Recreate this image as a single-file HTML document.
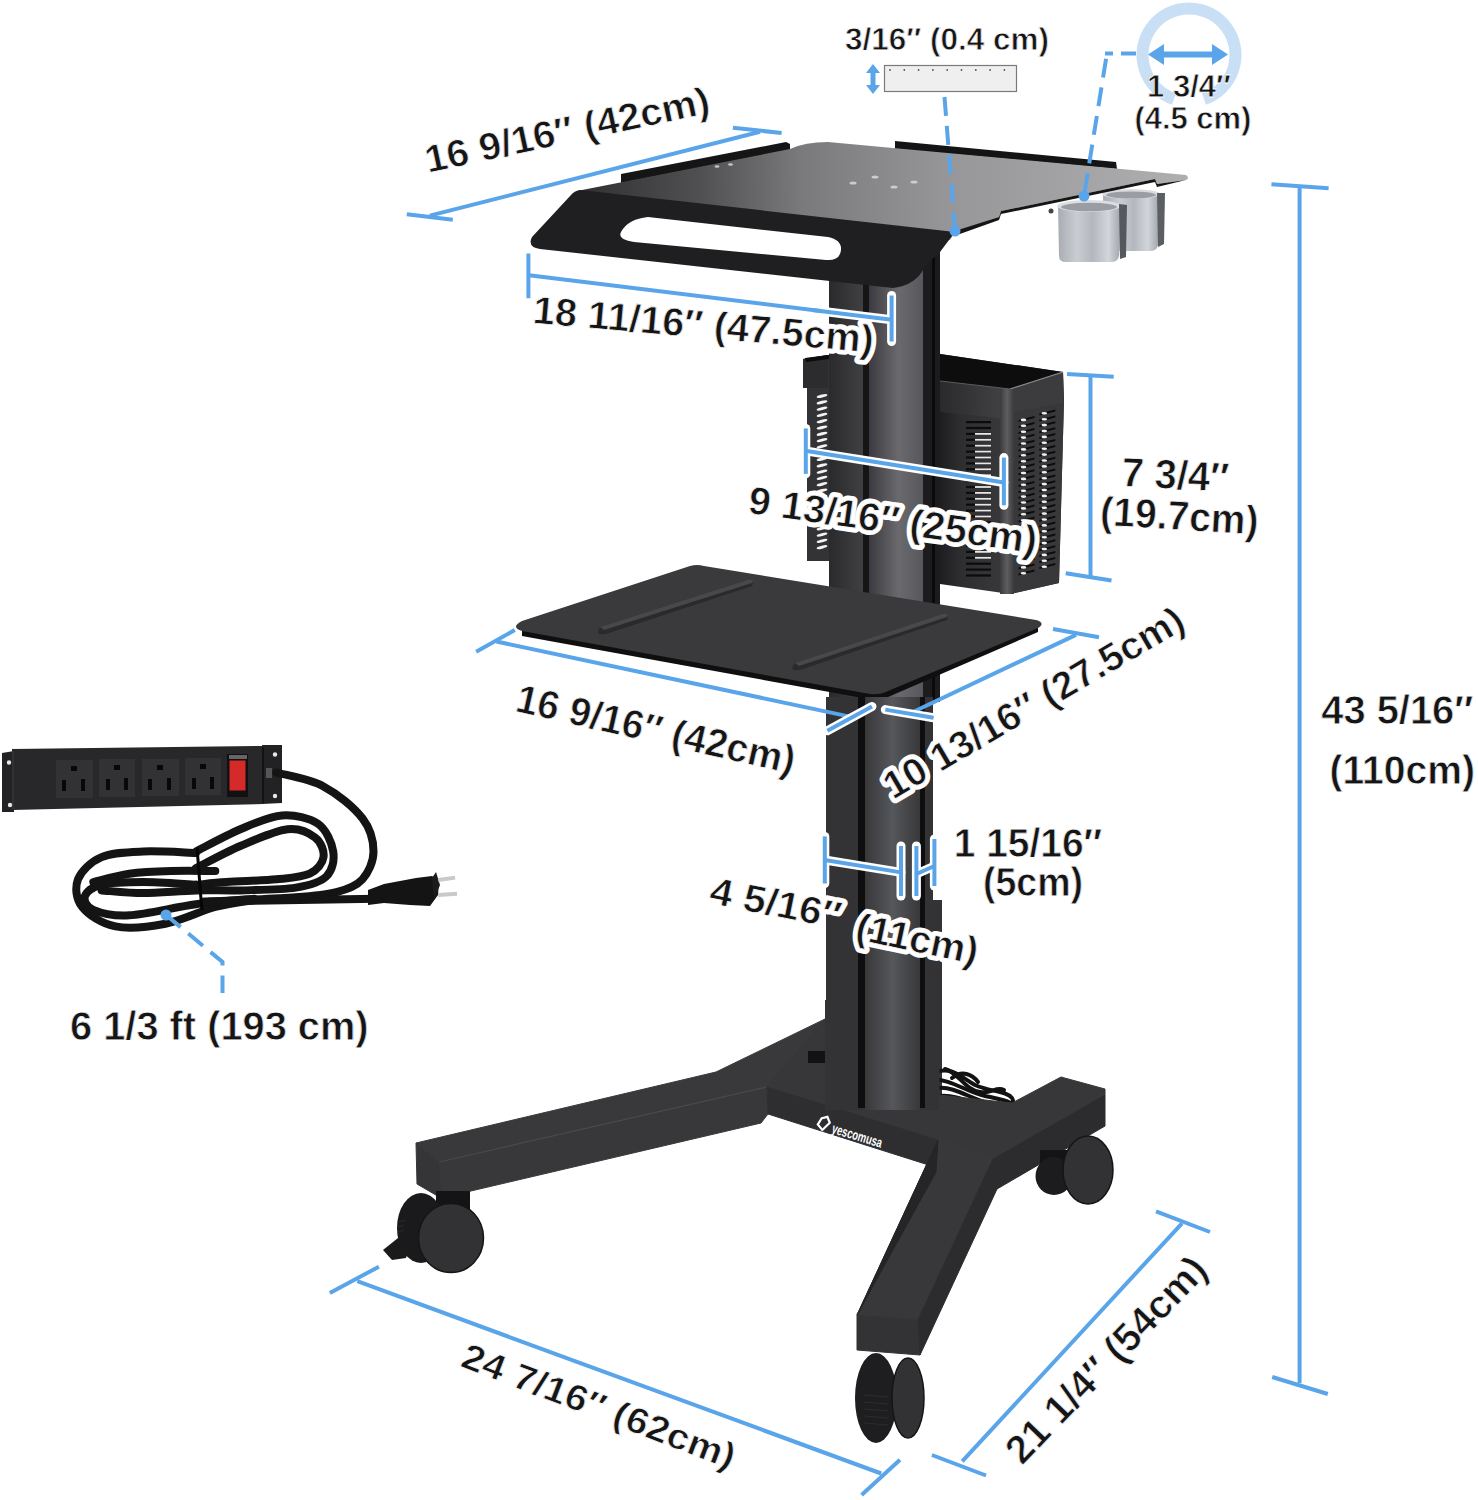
<!DOCTYPE html>
<html><head><meta charset="utf-8">
<style>
html,body{margin:0;padding:0;background:#fff;}
body{width:1478px;height:1500px;overflow:hidden;}
svg{display:block;}
text{font-family:"Liberation Sans",sans-serif;font-weight:bold;fill:#151515;}
.lbl{stroke:#fff;stroke-width:9px;paint-order:stroke;stroke-linejoin:round;}
.thin{stroke:#fff;stroke-width:0.8px;paint-order:normal;}
.dim{stroke:#5aa5ea;stroke-width:4;fill:none;stroke-linecap:butt;}
.dash{stroke:#5aa5ea;stroke-width:4;fill:none;stroke-dasharray:19 10;}
</style></head>
<body>
<svg width="1478" height="1500" viewBox="0 0 1478 1500">
<defs>
  <linearGradient id="traytop" x1="580" y1="190" x2="1180" y2="180" gradientUnits="userSpaceOnUse">
    <stop offset="0" stop-color="#303032"/>
    <stop offset="0.2" stop-color="#505052"/>
    <stop offset="0.37" stop-color="#7a7a7c"/>
    <stop offset="0.62" stop-color="#979799"/>
    <stop offset="1" stop-color="#aeaeb0"/>
  </linearGradient>
  <linearGradient id="cup" x1="0" y1="0" x2="1" y2="0">
    <stop offset="0" stop-color="#a9adb3"/>
    <stop offset="0.3" stop-color="#c9ccd1"/>
    <stop offset="0.55" stop-color="#b4b8be"/>
    <stop offset="0.8" stop-color="#d2d5da"/>
    <stop offset="1" stop-color="#a0a4aa"/>
  </linearGradient>
  <linearGradient id="col" x1="0" y1="0" x2="1" y2="0">
    <stop offset="0" stop-color="#38383b"/>
    <stop offset="0.5" stop-color="#56575b"/>
    <stop offset="1" stop-color="#38383a"/>
  </linearGradient>
  <linearGradient id="colU" x1="0" y1="0" x2="1" y2="0">
    <stop offset="0" stop-color="#3a3a40"/>
    <stop offset="0.55" stop-color="#6a6a6e"/>
    <stop offset="1" stop-color="#58585c"/>
  </linearGradient>
  <linearGradient id="colR" x1="0" y1="0" x2="1" y2="0">
    <stop offset="0" stop-color="#2a2a2c"/>
    <stop offset="1" stop-color="#404043"/>
  </linearGradient>
  <linearGradient id="bskF" x1="940" y1="0" x2="1010" y2="0" gradientUnits="userSpaceOnUse">
    <stop offset="0" stop-color="#1e1e20"/><stop offset="0.3" stop-color="#2e2e30"/><stop offset="1" stop-color="#3a3a3c"/>
  </linearGradient>
  <linearGradient id="bskB" x1="940" y1="0" x2="1010" y2="0" gradientUnits="userSpaceOnUse">
    <stop offset="0" stop-color="#2a2a2c"/><stop offset="1" stop-color="#444446"/>
  </linearGradient>
  <linearGradient id="bskC" x1="0" y1="0" x2="1" y2="0">
    <stop offset="0" stop-color="#3a3a3c"/><stop offset="0.5" stop-color="#5e5e62"/><stop offset="1" stop-color="#3a3a3c"/>
  </linearGradient>
</defs>

<!-- ============ CART ============ -->
<g id="cart">
<!-- left basket -->
<polygon points="803,359 828,355 864,360 864,561 807,561 807,388 803,388" fill="#333336"/>
<polygon points="803,359 828,355 828,388 803,388" fill="#2c2c2f"/><polygon points="805,358 828,355 845,357 806,362" fill="#0c0c0d"/>
<g fill="#f2f2f2"><ellipse cx="822" cy="396.0" rx="5.5" ry="1.5" transform="rotate(-14 822 396.0)"/><ellipse cx="822" cy="402.3" rx="5.5" ry="1.5" transform="rotate(-14 822 402.3)"/><ellipse cx="822" cy="408.6" rx="5.5" ry="1.5" transform="rotate(-14 822 408.6)"/><ellipse cx="822" cy="414.9" rx="5.5" ry="1.5" transform="rotate(-14 822 414.9)"/><ellipse cx="822" cy="421.2" rx="5.5" ry="1.5" transform="rotate(-14 822 421.2)"/><ellipse cx="822" cy="427.5" rx="5.5" ry="1.5" transform="rotate(-14 822 427.5)"/><ellipse cx="822" cy="433.8" rx="5.5" ry="1.5" transform="rotate(-14 822 433.8)"/><ellipse cx="822" cy="440.1" rx="5.5" ry="1.5" transform="rotate(-14 822 440.1)"/><ellipse cx="822" cy="446.4" rx="5.5" ry="1.5" transform="rotate(-14 822 446.4)"/><ellipse cx="822" cy="452.7" rx="5.5" ry="1.5" transform="rotate(-14 822 452.7)"/><ellipse cx="822" cy="459.0" rx="5.5" ry="1.5" transform="rotate(-14 822 459.0)"/><ellipse cx="822" cy="465.3" rx="5.5" ry="1.5" transform="rotate(-14 822 465.3)"/><ellipse cx="822" cy="471.6" rx="5.5" ry="1.5" transform="rotate(-14 822 471.6)"/><ellipse cx="822" cy="477.9" rx="5.5" ry="1.5" transform="rotate(-14 822 477.9)"/><ellipse cx="822" cy="484.2" rx="5.5" ry="1.5" transform="rotate(-14 822 484.2)"/><ellipse cx="822" cy="490.5" rx="5.5" ry="1.5" transform="rotate(-14 822 490.5)"/><ellipse cx="822" cy="496.8" rx="5.5" ry="1.5" transform="rotate(-14 822 496.8)"/><ellipse cx="822" cy="503.1" rx="5.5" ry="1.5" transform="rotate(-14 822 503.1)"/><ellipse cx="822" cy="509.4" rx="5.5" ry="1.5" transform="rotate(-14 822 509.4)"/><ellipse cx="822" cy="515.7" rx="5.5" ry="1.5" transform="rotate(-14 822 515.7)"/><ellipse cx="822" cy="522.0" rx="5.5" ry="1.5" transform="rotate(-14 822 522.0)"/><ellipse cx="822" cy="528.3" rx="5.5" ry="1.5" transform="rotate(-14 822 528.3)"/><ellipse cx="822" cy="534.6" rx="5.5" ry="1.5" transform="rotate(-14 822 534.6)"/><ellipse cx="822" cy="540.9" rx="5.5" ry="1.5" transform="rotate(-14 822 540.9)"/><ellipse cx="822" cy="547.2" rx="5.5" ry="1.5" transform="rotate(-14 822 547.2)"/></g>
<!-- right basket -->
<polygon points="940,354 1063,372 1064,400 1059,583 1010,594 940,584" fill="url(#bskF)"/>
<polygon points="940,354 1063,372 1010,389 940,381" fill="#0d0d0e"/>
<polygon points="1010,389 1063,372 1064,400 1059,583 1010,594" fill="#38383a"/>
<polygon points="940,381 1010,389 1010,419 940,412" fill="url(#bskB)"/>
<polygon points="1010,389 1063,372 1063,403 1010,413" fill="#3c3c3e"/>
<line x1="940" y1="381" x2="1010" y2="389" stroke="#5a5a5c" stroke-width="1.2"/><line x1="1010" y1="389" x2="1063" y2="372" stroke="#8a8a8c" stroke-width="1.2"/>
<rect x="1000" y="389" width="14" height="205" fill="url(#bskC)"/>
<g><rect x="966" y="421.0" width="25" height="2.2" fill="#0c0c0d"/><rect x="966" y="426.9" width="25" height="2.2" fill="#0c0c0d"/><rect x="966" y="432.8" width="25" height="2.2" fill="#0c0c0d"/><rect x="975" y="433.0" width="16" height="1.8" fill="#e8e8e8"/><rect x="966" y="438.7" width="25" height="2.2" fill="#0c0c0d"/><rect x="975" y="438.9" width="16" height="1.8" fill="#e8e8e8"/><rect x="966" y="444.6" width="25" height="2.2" fill="#0c0c0d"/><rect x="975" y="444.8" width="16" height="1.8" fill="#e8e8e8"/><rect x="966" y="450.5" width="25" height="2.2" fill="#0c0c0d"/><rect x="975" y="450.7" width="16" height="1.8" fill="#e8e8e8"/><rect x="966" y="456.4" width="25" height="2.2" fill="#0c0c0d"/><rect x="975" y="456.6" width="16" height="1.8" fill="#e8e8e8"/><rect x="966" y="462.3" width="25" height="2.2" fill="#0c0c0d"/><rect x="975" y="462.5" width="16" height="1.8" fill="#e8e8e8"/><rect x="966" y="468.2" width="25" height="2.2" fill="#0c0c0d"/><rect x="975" y="468.4" width="16" height="1.8" fill="#e8e8e8"/><rect x="966" y="474.1" width="25" height="2.2" fill="#0c0c0d"/><rect x="975" y="474.3" width="16" height="1.8" fill="#e8e8e8"/><rect x="966" y="480.0" width="25" height="2.2" fill="#0c0c0d"/><rect x="975" y="480.2" width="16" height="1.8" fill="#e8e8e8"/><rect x="966" y="485.9" width="25" height="2.2" fill="#0c0c0d"/><rect x="975" y="486.1" width="16" height="1.8" fill="#e8e8e8"/><rect x="966" y="491.8" width="25" height="2.2" fill="#0c0c0d"/><rect x="975" y="492.0" width="16" height="1.8" fill="#e8e8e8"/><rect x="966" y="497.7" width="25" height="2.2" fill="#0c0c0d"/><rect x="975" y="497.9" width="16" height="1.8" fill="#e8e8e8"/><rect x="966" y="503.6" width="25" height="2.2" fill="#0c0c0d"/><rect x="975" y="503.8" width="16" height="1.8" fill="#e8e8e8"/><rect x="966" y="509.5" width="25" height="2.2" fill="#0c0c0d"/><rect x="975" y="509.7" width="16" height="1.8" fill="#e8e8e8"/><rect x="966" y="515.4" width="25" height="2.2" fill="#0c0c0d"/><rect x="975" y="515.6" width="16" height="1.8" fill="#e8e8e8"/><rect x="966" y="521.3" width="25" height="2.2" fill="#0c0c0d"/><rect x="966" y="527.2" width="25" height="2.2" fill="#0c0c0d"/><rect x="966" y="533.1" width="25" height="2.2" fill="#0c0c0d"/><rect x="966" y="539.0" width="25" height="2.2" fill="#0c0c0d"/><rect x="966" y="544.9" width="25" height="2.2" fill="#0c0c0d"/><rect x="966" y="550.8" width="25" height="2.2" fill="#0c0c0d"/><rect x="975" y="551.0" width="16" height="1.8" fill="#e8e8e8"/><rect x="966" y="556.7" width="25" height="2.2" fill="#0c0c0d"/><rect x="975" y="556.9" width="16" height="1.8" fill="#e8e8e8"/><rect x="966" y="562.6" width="25" height="2.2" fill="#0c0c0d"/><rect x="966" y="568.5" width="25" height="2.2" fill="#0c0c0d"/><rect x="966" y="574.4" width="25" height="2.2" fill="#0c0c0d"/><polygon points="1018.5,420.1 1034.5,416.1 1034.5,418.1 1018.5,422.1" fill="#0c0c0d"/><ellipse cx="1023.5" cy="419.9" rx="2.8" ry="1.3" fill="#f0f0f0"/><polygon points="1018.5,426.0 1034.5,422.0 1034.5,424.0 1018.5,428.0" fill="#0c0c0d"/><ellipse cx="1023.5" cy="425.8" rx="2.8" ry="1.3" fill="#f0f0f0"/><polygon points="1018.5,431.9 1034.5,427.9 1034.5,429.9 1018.5,433.9" fill="#0c0c0d"/><ellipse cx="1023.5" cy="431.7" rx="2.8" ry="1.3" fill="#f0f0f0"/><polygon points="1018.5,437.8 1034.5,433.8 1034.5,435.8 1018.5,439.8" fill="#0c0c0d"/><ellipse cx="1023.5" cy="437.6" rx="2.8" ry="1.3" fill="#f0f0f0"/><polygon points="1018.5,443.7 1034.5,439.7 1034.5,441.7 1018.5,445.7" fill="#0c0c0d"/><ellipse cx="1023.5" cy="443.5" rx="2.8" ry="1.3" fill="#f0f0f0"/><polygon points="1018.5,449.6 1034.5,445.6 1034.5,447.6 1018.5,451.6" fill="#0c0c0d"/><ellipse cx="1023.5" cy="449.4" rx="2.8" ry="1.3" fill="#f0f0f0"/><polygon points="1018.5,455.5 1034.5,451.5 1034.5,453.5 1018.5,457.5" fill="#0c0c0d"/><ellipse cx="1023.5" cy="455.3" rx="2.8" ry="1.3" fill="#f0f0f0"/><polygon points="1018.5,461.4 1034.5,457.4 1034.5,459.4 1018.5,463.4" fill="#0c0c0d"/><ellipse cx="1023.5" cy="461.2" rx="2.8" ry="1.3" fill="#f0f0f0"/><polygon points="1018.5,467.3 1034.5,463.3 1034.5,465.3 1018.5,469.3" fill="#0c0c0d"/><ellipse cx="1023.5" cy="467.1" rx="2.8" ry="1.3" fill="#f0f0f0"/><polygon points="1018.5,473.2 1034.5,469.2 1034.5,471.2 1018.5,475.2" fill="#0c0c0d"/><ellipse cx="1023.5" cy="473.0" rx="2.8" ry="1.3" fill="#f0f0f0"/><polygon points="1018.5,479.1 1034.5,475.1 1034.5,477.1 1018.5,481.1" fill="#0c0c0d"/><ellipse cx="1023.5" cy="478.9" rx="2.8" ry="1.3" fill="#f0f0f0"/><polygon points="1018.5,485.0 1034.5,481.0 1034.5,483.0 1018.5,487.0" fill="#0c0c0d"/><ellipse cx="1023.5" cy="484.8" rx="2.8" ry="1.3" fill="#f0f0f0"/><polygon points="1018.5,490.9 1034.5,486.9 1034.5,488.9 1018.5,492.9" fill="#0c0c0d"/><ellipse cx="1023.5" cy="490.7" rx="2.8" ry="1.3" fill="#f0f0f0"/><polygon points="1018.5,496.8 1034.5,492.8 1034.5,494.8 1018.5,498.8" fill="#0c0c0d"/><ellipse cx="1023.5" cy="496.6" rx="2.8" ry="1.3" fill="#f0f0f0"/><polygon points="1018.5,502.7 1034.5,498.7 1034.5,500.7 1018.5,504.7" fill="#0c0c0d"/><ellipse cx="1023.5" cy="502.5" rx="2.8" ry="1.3" fill="#f0f0f0"/><polygon points="1018.5,508.6 1034.5,504.6 1034.5,506.6 1018.5,510.6" fill="#0c0c0d"/><ellipse cx="1023.5" cy="508.4" rx="2.8" ry="1.3" fill="#f0f0f0"/><polygon points="1018.5,514.5 1034.5,510.5 1034.5,512.5 1018.5,516.5" fill="#0c0c0d"/><ellipse cx="1023.5" cy="514.3" rx="2.8" ry="1.3" fill="#f0f0f0"/><polygon points="1018.5,520.4 1034.5,516.4 1034.5,518.4 1018.5,522.4" fill="#0c0c0d"/><ellipse cx="1023.5" cy="520.2" rx="2.8" ry="1.3" fill="#f0f0f0"/><polygon points="1018.5,526.3 1034.5,522.3 1034.5,524.3 1018.5,528.3" fill="#0c0c0d"/><ellipse cx="1023.5" cy="526.1" rx="2.8" ry="1.3" fill="#f0f0f0"/><polygon points="1018.5,532.2 1034.5,528.2 1034.5,530.2 1018.5,534.2" fill="#0c0c0d"/><ellipse cx="1023.5" cy="532.0" rx="2.8" ry="1.3" fill="#f0f0f0"/><polygon points="1018.5,538.1 1034.5,534.1 1034.5,536.1 1018.5,540.1" fill="#0c0c0d"/><ellipse cx="1023.5" cy="537.9" rx="2.8" ry="1.3" fill="#f0f0f0"/><polygon points="1018.5,544.0 1034.5,540.0 1034.5,542.0 1018.5,546.0" fill="#0c0c0d"/><ellipse cx="1023.5" cy="543.8" rx="2.8" ry="1.3" fill="#f0f0f0"/><polygon points="1018.5,549.9 1034.5,545.9 1034.5,547.9 1018.5,551.9" fill="#0c0c0d"/><ellipse cx="1023.5" cy="549.7" rx="2.8" ry="1.3" fill="#f0f0f0"/><polygon points="1018.5,555.8 1034.5,551.8 1034.5,553.8 1018.5,557.8" fill="#0c0c0d"/><ellipse cx="1023.5" cy="555.6" rx="2.8" ry="1.3" fill="#f0f0f0"/><polygon points="1018.5,561.7 1034.5,557.7 1034.5,559.7 1018.5,563.7" fill="#0c0c0d"/><ellipse cx="1023.5" cy="561.5" rx="2.8" ry="1.3" fill="#f0f0f0"/><polygon points="1018.5,567.6 1034.5,563.6 1034.5,565.6 1018.5,569.6" fill="#0c0c0d"/><ellipse cx="1023.5" cy="567.4" rx="2.8" ry="1.3" fill="#f0f0f0"/><polygon points="1018.5,573.5 1034.5,569.5 1034.5,571.5 1018.5,575.5" fill="#0c0c0d"/><ellipse cx="1023.5" cy="573.3" rx="2.8" ry="1.3" fill="#f0f0f0"/><polygon points="1039.3,413.5 1055.3,409.5 1055.3,411.5 1039.3,415.5" fill="#0c0c0d"/><ellipse cx="1044.3" cy="413.3" rx="2.8" ry="1.3" fill="#f0f0f0"/><polygon points="1039.3,419.4 1055.3,415.4 1055.3,417.4 1039.3,421.4" fill="#0c0c0d"/><ellipse cx="1044.3" cy="419.2" rx="2.8" ry="1.3" fill="#f0f0f0"/><polygon points="1039.3,425.3 1055.3,421.3 1055.3,423.3 1039.3,427.3" fill="#0c0c0d"/><ellipse cx="1044.3" cy="425.1" rx="2.8" ry="1.3" fill="#f0f0f0"/><polygon points="1039.3,431.2 1055.3,427.2 1055.3,429.2 1039.3,433.2" fill="#0c0c0d"/><ellipse cx="1044.3" cy="431.0" rx="2.8" ry="1.3" fill="#f0f0f0"/><polygon points="1039.3,437.1 1055.3,433.1 1055.3,435.1 1039.3,439.1" fill="#0c0c0d"/><ellipse cx="1044.3" cy="436.9" rx="2.8" ry="1.3" fill="#f0f0f0"/><polygon points="1039.3,443.0 1055.3,439.0 1055.3,441.0 1039.3,445.0" fill="#0c0c0d"/><ellipse cx="1044.3" cy="442.8" rx="2.8" ry="1.3" fill="#f0f0f0"/><polygon points="1039.3,448.9 1055.3,444.9 1055.3,446.9 1039.3,450.9" fill="#0c0c0d"/><ellipse cx="1044.3" cy="448.7" rx="2.8" ry="1.3" fill="#f0f0f0"/><polygon points="1039.3,454.8 1055.3,450.8 1055.3,452.8 1039.3,456.8" fill="#0c0c0d"/><ellipse cx="1044.3" cy="454.6" rx="2.8" ry="1.3" fill="#f0f0f0"/><polygon points="1039.3,460.7 1055.3,456.7 1055.3,458.7 1039.3,462.7" fill="#0c0c0d"/><ellipse cx="1044.3" cy="460.5" rx="2.8" ry="1.3" fill="#f0f0f0"/><polygon points="1039.3,466.6 1055.3,462.6 1055.3,464.6 1039.3,468.6" fill="#0c0c0d"/><ellipse cx="1044.3" cy="466.4" rx="2.8" ry="1.3" fill="#f0f0f0"/><polygon points="1039.3,472.5 1055.3,468.5 1055.3,470.5 1039.3,474.5" fill="#0c0c0d"/><ellipse cx="1044.3" cy="472.3" rx="2.8" ry="1.3" fill="#f0f0f0"/><polygon points="1039.3,478.4 1055.3,474.4 1055.3,476.4 1039.3,480.4" fill="#0c0c0d"/><ellipse cx="1044.3" cy="478.2" rx="2.8" ry="1.3" fill="#f0f0f0"/><polygon points="1039.3,484.3 1055.3,480.3 1055.3,482.3 1039.3,486.3" fill="#0c0c0d"/><ellipse cx="1044.3" cy="484.1" rx="2.8" ry="1.3" fill="#f0f0f0"/><polygon points="1039.3,490.2 1055.3,486.2 1055.3,488.2 1039.3,492.2" fill="#0c0c0d"/><ellipse cx="1044.3" cy="490.0" rx="2.8" ry="1.3" fill="#f0f0f0"/><polygon points="1039.3,496.1 1055.3,492.1 1055.3,494.1 1039.3,498.1" fill="#0c0c0d"/><ellipse cx="1044.3" cy="495.9" rx="2.8" ry="1.3" fill="#f0f0f0"/><polygon points="1039.3,502.0 1055.3,498.0 1055.3,500.0 1039.3,504.0" fill="#0c0c0d"/><ellipse cx="1044.3" cy="501.8" rx="2.8" ry="1.3" fill="#f0f0f0"/><polygon points="1039.3,507.9 1055.3,503.9 1055.3,505.9 1039.3,509.9" fill="#0c0c0d"/><ellipse cx="1044.3" cy="507.7" rx="2.8" ry="1.3" fill="#f0f0f0"/><polygon points="1039.3,513.8 1055.3,509.8 1055.3,511.8 1039.3,515.8" fill="#0c0c0d"/><ellipse cx="1044.3" cy="513.6" rx="2.8" ry="1.3" fill="#f0f0f0"/><polygon points="1039.3,519.7 1055.3,515.7 1055.3,517.7 1039.3,521.7" fill="#0c0c0d"/><ellipse cx="1044.3" cy="519.5" rx="2.8" ry="1.3" fill="#f0f0f0"/><polygon points="1039.3,525.6 1055.3,521.6 1055.3,523.6 1039.3,527.6" fill="#0c0c0d"/><ellipse cx="1044.3" cy="525.4" rx="2.8" ry="1.3" fill="#f0f0f0"/><polygon points="1039.3,531.5 1055.3,527.5 1055.3,529.5 1039.3,533.5" fill="#0c0c0d"/><ellipse cx="1044.3" cy="531.3" rx="2.8" ry="1.3" fill="#f0f0f0"/><polygon points="1039.3,537.4 1055.3,533.4 1055.3,535.4 1039.3,539.4" fill="#0c0c0d"/><ellipse cx="1044.3" cy="537.2" rx="2.8" ry="1.3" fill="#f0f0f0"/><polygon points="1039.3,543.3 1055.3,539.3 1055.3,541.3 1039.3,545.3" fill="#0c0c0d"/><ellipse cx="1044.3" cy="543.1" rx="2.8" ry="1.3" fill="#f0f0f0"/><polygon points="1039.3,549.2 1055.3,545.2 1055.3,547.2 1039.3,551.2" fill="#0c0c0d"/><ellipse cx="1044.3" cy="549.0" rx="2.8" ry="1.3" fill="#f0f0f0"/><polygon points="1039.3,555.1 1055.3,551.1 1055.3,553.1 1039.3,557.1" fill="#0c0c0d"/><ellipse cx="1044.3" cy="554.9" rx="2.8" ry="1.3" fill="#f0f0f0"/><polygon points="1039.3,561.0 1055.3,557.0 1055.3,559.0 1039.3,563.0" fill="#0c0c0d"/><ellipse cx="1044.3" cy="560.8" rx="2.8" ry="1.3" fill="#f0f0f0"/><polygon points="1039.3,566.9 1055.3,562.9 1055.3,564.9 1039.3,568.9" fill="#0c0c0d"/><ellipse cx="1044.3" cy="566.7" rx="2.8" ry="1.3" fill="#f0f0f0"/></g>

<!-- upper column -->
<rect x="829" y="262" width="111" height="440" fill="#2a2a2c"/>
<rect x="829" y="262" width="34" height="440" fill="url(#colR)"/>
<rect x="869" y="262" width="54" height="440" fill="url(#colU)"/>
<rect x="863" y="262" width="6" height="440" fill="#151516"/>
<rect x="923" y="252" width="17" height="450" fill="#1c1c1e"/>
<rect x="932" y="252" width="3" height="450" fill="#0a0a0a"/>

<!-- tray left rail -->
<polygon points="621,174 786,142 790,144 790,150 621,183" fill="#151516"/>
<!-- tray back rail -->
<polygon points="895,141 1116,162 1117,169 895,149" fill="#141415"/>
<!-- cups (behind tray edge) -->
<g id="cups">
  <path d="M1103,194 L1159,194 L1158,245 Q1157,251 1150,251 L1111,251 Q1104,251 1104,245 Z" fill="url(#cup)"/>
  <ellipse cx="1131" cy="194" rx="29" ry="5" fill="#d9dbde"/>
  <ellipse cx="1131" cy="195" rx="25" ry="3.5" fill="#9a9ea4"/>
  <path d="M1157,193 L1165,193 L1164,244 L1158,247 Z" fill="#5b5e63"/>
  <path d="M1058,206 L1121,206 L1119,256 Q1118,262 1111,262 L1066,262 Q1059,262 1059,256 Z" fill="url(#cup)"/>
  <ellipse cx="1089" cy="206" rx="32" ry="6" fill="#dcdee1"/>
  <ellipse cx="1089" cy="207" rx="28" ry="4.2" fill="#9a9ea4"/>
  <path d="M1119,204 L1127,205 L1126,257 L1120,259 Z" fill="#55585d"/>
  <circle cx="1051" cy="211" r="2.5" fill="#444446"/>
</g>
<!-- tray top surface -->
<path d="M577,191 L790,149 Q805,142 828,142 L1186,175 Q1190,178 1186,180 L1157,184 L1155,179 L1001,211 L999,217 L955,232 L950,240 L570,200 Z" fill="url(#traytop)"/>
<path d="M1186,180 L1157,187 L1155,182 L1001,214 L999,220 L957,235 L955,231 L999,217 L1001,211 L1155,179 L1157,184 Z" fill="#151516"/>
<g fill="#d8d8d8" opacity="0.85">
  <ellipse cx="853" cy="183" rx="3.5" ry="1.5"/><ellipse cx="875" cy="177" rx="3.5" ry="1.5"/>
  <ellipse cx="894" cy="187" rx="3.5" ry="1.5"/><ellipse cx="914" cy="182" rx="3.5" ry="1.5"/><ellipse cx="717" cy="166.5" rx="2.5" ry="1.2"/><ellipse cx="730.5" cy="164.5" rx="2.5" ry="1.2"/>
  
</g>
<!-- tray front lip -->
<path d="M580,190 L955,232 L940,252 L925,266 Q917,285 893,288 L540,249 Q527,247 532,237 L571,195 Q574,191 580,190 Z" fill="#1f1f21"/>
<!-- handle hole -->
<path d="M648,217 L828,237 Q842,240 841,250 Q840,261 826,260 L634,242 Q617,240 621,232 Q628,219 648,217 Z" fill="#ffffff"/>

<!-- middle shelf -->
<path d="M522,626 L870,689 Q880,690 888,686 L1038,623 L1038,632 L888,697 Q878,701 868,699 L522,636 Z" fill="#0f0f10"/>
<path d="M522,621 L690,566 Q697,564 704,566 L1036,620 Q1046,623 1038,628 L888,691 Q880,695 870,694 L522,631 Q510,627 522,621 Z" fill="#3a3a3c"/>
<path d="M600,627 L747,580 Q755,579 752,586 L606,634 Q594,636 600,627 Z" fill="#2a2a2c"/><path d="M600,627 L747,580 Q755,579 752,583 L604,630 Z" fill="#48484b"/>
<path d="M795,663 L942,614 Q950,613 947,620 L800,670 Q788,672 795,663 Z" fill="#2a2a2c"/><path d="M795,663 L942,614 Q950,613 947,617 L799,666 Z" fill="#48484b"/>

<!-- lower column -->
<rect x="826" y="697" width="107" height="420" fill="#333335"/>
<rect x="865" y="697" width="55" height="420" fill="url(#col)"/>
<rect x="826" y="900" width="116" height="215" fill="#333335"/>
<rect x="865" y="900" width="55" height="215" fill="url(#col)"/>
<rect x="858" y="697" width="7" height="418" fill="#0e0e0f"/>
<rect x="920" y="697" width="5" height="418" fill="#0e0e0f"/>

<!-- base -->
<!-- cables -->
<g fill="none" stroke="#121212" stroke-width="4" stroke-linecap="round">
  <path d="M936,1072 C952,1066 962,1078 975,1085 C990,1092 1005,1090 1012,1098 C1016,1104 1008,1108 998,1106"/>
  <path d="M932,1080 C950,1078 966,1092 985,1096 C1000,1099 1010,1101 1014,1106"/>
  <path d="M938,1088 C955,1086 972,1100 992,1104 C1002,1106 1010,1108 1012,1110"/>
  <path d="M945,1069 C958,1072 965,1090 980,1092 C992,1094 996,1086 1004,1090"/>
  <path d="M940,1096 C960,1094 978,1108 1000,1110"/>
  <path d="M952,1078 C962,1070 972,1074 978,1082"/>
</g>
<!-- left leg -->
<polygon points="416,1143 716,1072 825,1019 825,1087 767,1087 439,1162" fill="#39393b" stroke="#39393b" stroke-width="1" stroke-linejoin="round"/>
<polygon points="439,1162 767,1087 768,1114 761,1123 441,1198" fill="#38383a" stroke="#38383a" stroke-width="1" stroke-linejoin="round"/>
<polygon points="416,1143 439,1162 441,1198 417,1184" fill="#353537" stroke="#353537" stroke-width="1" stroke-linejoin="round"/>
<polyline points="439,1162 767,1087" stroke="#4a4a4c" stroke-width="1.2" fill="none"/>
<!-- hub area -->
<polygon points="825,1019 939,1019 939,1095 1012,1103 1061,1077 1105,1089 1105,1095 993,1159 938,1140 767,1087" fill="#37373a" stroke="#37373a" stroke-width="1" stroke-linejoin="round"/>
<polygon points="767,1087 938,1140 938,1168 768,1114" fill="#2e2e30" stroke="#2e2e30" stroke-width="1" stroke-linejoin="round"/>
<!-- right leg -->
<polygon points="993,1159 1105,1095 1105,1126 997,1189" fill="#2c2c2e" stroke="#2c2c2e" stroke-width="1" stroke-linejoin="round"/>
<!-- front leg -->
<polygon points="938,1140 993,1159 918,1320 857,1315" fill="#38383a" stroke="#38383a" stroke-width="1" stroke-linejoin="round"/>
<polygon points="938,1140 936,1172 857,1315" fill="#252527" stroke="#252527" stroke-width="1" stroke-linejoin="round"/>
<polygon points="857,1315 918,1320 920,1355 857,1350" fill="#333335" stroke="#333335" stroke-width="1" stroke-linejoin="round"/>
<polygon points="918,1320 993,1159 997,1189 920,1355" fill="#2c2c2e" stroke="#2c2c2e" stroke-width="1" stroke-linejoin="round"/>
<!-- column bottom over hub -->
<rect x="825" y="1000" width="114" height="110" fill="#333335"/>
<rect x="865" y="1000" width="55" height="110" fill="url(#col)"/>
<rect x="858" y="1000" width="7" height="108" fill="#0e0e0f"/>
<rect x="920" y="1000" width="5" height="108" fill="#0e0e0f"/>
<rect x="808" y="1051" width="17" height="12" fill="#121213"/>
<!-- logo -->
<g transform="translate(820,1124) rotate(17)">
  <path d="M0,-6 L5,-9 L9,-4 L4,5 L-2,1 Z" fill="none" stroke="#fff" stroke-width="2.2"/>
  <text x="13" y="5" font-size="14" style="fill:#fff;font-weight:bold" textLength="52" lengthAdjust="spacingAndGlyphs">yescomusa</text>
</g>

<!-- casters -->
<g>
  <rect x="436" y="1191" width="34" height="22" fill="#141415"/>
  <ellipse cx="421" cy="1228" rx="24" ry="35" fill="#1a1a1c"/>
  <polygon points="383,1250 398,1238 410,1246 406,1258 392,1260" fill="#1a1a1b"/>
  <g stroke="#2a2a2c" stroke-width="1.2"><line x1="399" y1="1222" x2="405" y2="1220"/><line x1="398" y1="1227" x2="404" y2="1225"/><line x1="398" y1="1232" x2="404" y2="1230"/></g>
  <ellipse cx="451" cy="1238" rx="32.5" ry="34.5" fill="#323234" stroke="#151516" stroke-width="1.5"/>
  <rect x="1040" y="1150" width="30" height="20" fill="#141415"/>
  <ellipse cx="1054" cy="1176" rx="18.5" ry="19" fill="#1c1c1e"/>
  <ellipse cx="1088" cy="1170" rx="25" ry="34" fill="#323234" stroke="#151516" stroke-width="1.5"/>
  <ellipse cx="876" cy="1398" rx="21" ry="45" fill="#1e1e20"/>
  <g stroke="#2c2c2e" stroke-width="1.2"><line x1="864" y1="1395" x2="888" y2="1397"/><line x1="864" y1="1402" x2="888" y2="1404"/><line x1="864" y1="1409" x2="888" y2="1411"/><line x1="864" y1="1416" x2="888" y2="1418"/><line x1="864" y1="1423" x2="888" y2="1425"/></g>
  <ellipse cx="908" cy="1398" rx="16" ry="40" fill="#323234" stroke="#151516" stroke-width="1.5"/>
</g>
</g>

<!-- ============ POWER STRIP ============ -->
<g id="strip">
<polygon points="2,753 14,751 14,812 2,812" fill="#222225"/>
<polygon points="262,745 282,745 282,803 262,804" fill="#222225"/>
<polygon points="12,749 264,746 264,804 12,810" fill="#28282b"/>
<line x1="13" y1="751" x2="13" y2="809" stroke="#3a3a3c" stroke-width="1.2"/>
<line x1="263" y1="747" x2="263" y2="803" stroke="#0c0c0c" stroke-width="1.5"/>
<g fill="#323235">
<rect x="56" y="760" width="37" height="38"/>
<rect x="99" y="759" width="36" height="38"/>
<rect x="142" y="759" width="37" height="37"/>
<rect x="185" y="758" width="36" height="37"/>
</g>
<g fill="#080808">
<rect x="71" y="766" width="6" height="5"/><rect x="62" y="780" width="4" height="11"/><rect x="81" y="779" width="4" height="12"/>
<rect x="114" y="765" width="6" height="5"/><rect x="106" y="779" width="4" height="11"/><rect x="124" y="778" width="4" height="12"/>
<rect x="157" y="765" width="6" height="5"/><rect x="148" y="779" width="4" height="11"/><rect x="167" y="778" width="4" height="12"/>
<rect x="200" y="764" width="6" height="5"/><rect x="192" y="778" width="4" height="11"/><rect x="210" y="777" width="4" height="12"/>
</g>
<rect x="227" y="754" width="21" height="43" fill="#111"/>
<rect x="229.5" y="760.5" width="16" height="30" fill="#d42a2a"/>
<rect x="229" y="755" width="18" height="4" fill="#666"/>
<g fill="#e8e8e8"><circle cx="9" cy="762.5" r="2.2"/><circle cx="10" cy="805" r="2.2"/><circle cx="275" cy="754.5" r="2.2"/><circle cx="275" cy="796" r="2.2"/></g>
<rect x="266" y="768" width="6" height="10" fill="#555"/>
<!-- cord -->
<g fill="none" stroke="#141414" stroke-width="8" stroke-linecap="round" stroke-linejoin="round">
<path d="M195.9,852.9 C187.1,852.7 158.9,850.8 143.2,851.5 C127.5,852.2 112.5,852.5 101.6,857.1 C90.7,861.7 81.3,871.0 78.0,879.3 C74.8,887.6 76.0,899.2 82.2,907.0 C88.4,914.9 101.6,923.7 115.5,926.4 C129.3,929.2 148.8,926.9 165.4,923.7 C182.1,920.4 200.5,910.9 215.3,907.0 C230.1,903.1 247.7,901.2 254.2,900.1"/>
<path d="M195.9,851.5 C203.3,847.8 226.0,835.4 240.3,829.3 C254.6,823.3 269.0,816.4 281.9,815.5 C294.9,814.6 309.4,817.8 318.0,823.8 C326.5,829.8 331.8,842.8 333.2,851.5 C334.6,860.3 332.5,870.5 326.3,876.5 C320.1,882.5 310.1,885.3 295.8,887.6 C281.5,889.9 256.9,889.9 240.3,890.4 C223.7,890.8 212.1,889.9 195.9,890.4 C179.7,890.8 158.9,893.1 143.2,893.1 C127.5,893.1 108.5,890.8 101.6,890.4"/>
<path d="M195.9,868.2 C203.3,864.5 225.0,852.5 240.3,846.0 C255.6,839.5 275.0,830.7 287.5,829.3 C299.9,828.0 309.2,833.0 315.2,837.7 C321.2,842.3 324.4,851.1 323.5,857.1 C322.6,863.1 317.5,870.0 309.7,873.7 C301.8,877.4 290.2,877.9 276.4,879.3 C262.5,880.7 239.8,881.1 226.4,882.1 C213.0,883.0 201.0,884.4 195.9,884.8"/>
<path d="M195.9,884.8 C187.1,884.4 158.9,882.1 143.2,882.1 C127.5,882.1 111.3,882.5 101.6,884.8 C91.9,887.1 86.4,891.8 85.0,895.9 C83.6,900.1 85.9,906.6 93.3,909.8 C100.7,913.0 112.2,916.3 129.3,915.3 C146.5,914.4 175.1,907.0 195.9,904.2 C216.7,901.5 244.5,899.6 254.2,898.7"/>
<path d="M215.3,871.0 C207.9,871.0 185.3,870.5 171.0,871.0 C156.6,871.4 142.3,871.9 129.3,873.7 C116.4,875.6 99.3,880.7 93.3,882.1"/>
<path d="M276.4,772.5 C284.2,774.8 309.2,778.7 323.5,786.4 C337.9,794.0 354.0,807.4 362.4,818.3 C370.7,829.1 373.5,841.4 373.5,851.5 C373.5,861.7 368.4,872.6 362.4,879.3 C356.3,886.0 348.5,888.8 337.4,891.8 C326.3,894.8 317.1,895.7 295.8,897.3 C274.5,898.9 224.1,900.8 209.8,901.5"/>
<path d="M204.2,901.5 L376.2,898.7"/>
</g>
<path d="M197,848 C199,870 200,890 202,910" stroke="#050505" stroke-width="3" fill="none"/>
<!-- plug -->
<path d="M368,890 L384,884 L416,878 L432,876 Q440,880 438,895 L430,906 L410,905 L384,903 L368,905 Z" fill="#141414"/>
<polygon points="432,878 436,872 440,885 434,900" fill="#1c1c1c"/>
<g fill="#c9c9c9"><rect x="438" y="878" width="17" height="4" transform="rotate(-8 438 878)"/><rect x="438" y="893" width="19" height="4" transform="rotate(-4 438 893)"/></g>
</g>
<!-- ============ DIMENSIONS ============ -->
<g id="dims">
<!-- A top-left 16 9/16 -->
<line class="dim" x1="429.8" y1="215.6" x2="760" y2="131.7"/>
<line class="dim" x1="406.8" y1="214.3" x2="452.8" y2="219.7"/>
<line class="dim" x1="732.9" y1="127.7" x2="781.6" y2="133"/>
<!-- C 3/16 -->
<rect x="884.5" y="65.5" width="132" height="26" fill="#efefef" stroke="#7a7a7a" stroke-width="1.2"/><g fill="#555"><circle cx="890.0" cy="70" r="0.9"/><circle cx="904.3" cy="70" r="0.9"/><circle cx="918.6" cy="70" r="0.9"/><circle cx="932.9" cy="70" r="0.9"/><circle cx="947.2" cy="70" r="0.9"/><circle cx="961.5" cy="70" r="0.9"/><circle cx="975.8" cy="70" r="0.9"/><circle cx="990.1" cy="70" r="0.9"/><circle cx="1004.4" cy="70" r="0.9"/></g>
<path d="M873,64 L880,73 L875.5,73 L875.5,85 L880,85 L873,94 L866,85 L870.5,85 L870.5,73 L866,73 Z" fill="#5aa5ea"/>
<line class="dash" x1="944.5" y1="97" x2="955" y2="230"/>
<circle cx="955" cy="231" r="5.5" fill="#5aa5ea"/>
<!-- D ring -->
<path d="M1174,99 A46.5,46.5 0 1 1 1204,99" fill="none" stroke="#c9dff6" stroke-width="12"/>
<path d="M1148,54.5 L1164,44 L1164,51.5 L1212,51.5 L1212,44 L1228,54.5 L1212,65 L1212,57.5 L1164,57.5 L1164,65 Z" fill="#5aa5ea"/>
<line class="dash" x1="1084" y1="196" x2="1107" y2="53" style="stroke-dasharray:19 10;stroke-dashoffset:-4"/><line class="dim" x1="1105" y1="53.5" x2="1113" y2="53.5"/><line class="dim" x1="1121" y1="53.5" x2="1136" y2="53.5"/>
<circle cx="1084" cy="196" r="5.5" fill="#5aa5ea"/>
<!-- B 18 11/16 -->
<line class="dim" x1="529" y1="275.2" x2="891.6" y2="319.8"/>
<line class="dim" x1="528.4" y1="253.5" x2="528.4" y2="298.2"/>
<!-- E 7 3/4 -->
<line class="dim" x1="1090.5" y1="375.4" x2="1090.5" y2="576"/>
<line class="dim" x1="1067" y1="374" x2="1113.7" y2="376.8"/>
<line class="dim" x1="1065.7" y1="573.3" x2="1111.5" y2="580.4"/>
<!-- F 43 5/16 -->
<line class="dim" x1="1299.6" y1="186" x2="1299.6" y2="1383"/>
<line class="dim" x1="1271.4" y1="184.2" x2="1328.6" y2="188.2"/>
<line class="dim" x1="1272.2" y1="1377" x2="1327.8" y2="1394"/>
<!-- H middle 16 9/16 -->
<line class="dim" x1="496.5" y1="641.5" x2="849.8" y2="716.6"/>
<line class="dim" x1="476.2" y1="651.7" x2="514.8" y2="630.1"/>
<!-- I 10 13/16 -->
<line class="dim" x1="913" y1="712" x2="1076" y2="634.9"/>
<line class="dim" x1="1053" y1="629" x2="1099" y2="637.2"/>
<!-- K 24 7/16 -->
<line class="dim" x1="357.3" y1="1281.2" x2="881.2" y2="1473.5"/>
<line class="dim" x1="329.8" y1="1293" x2="378.9" y2="1266.7"/>
<line class="dim" x1="861.6" y1="1495" x2="900" y2="1459.8"/>
<!-- L 21 1/4 -->
<line class="dim" x1="962.2" y1="1461.4" x2="1182" y2="1223.3"/>
<line class="dim" x1="931.9" y1="1455" x2="986" y2="1475.5"/>
<line class="dim" x1="1156" y1="1211.4" x2="1210" y2="1232"/>
<!-- M power cord dashed -->
<polyline class="dash" points="166,915 222.5,962 222.5,993"/>
<circle cx="166" cy="915" r="5.5" fill="#5aa5ea"/>
</g>
<!-- dims over dark parts with white outline -->
<g id="dims2">
<g stroke="#fff" stroke-width="9" fill="none" stroke-linecap="round">
  <line x1="826" y1="311.8" x2="891.6" y2="319.8"/>
  <line x1="891.6" y1="295.5" x2="891.6" y2="341.5"/>
  <line x1="806.9" y1="451.1" x2="1003.9" y2="482.5"/>
  <line x1="805.8" y1="428.4" x2="805.8" y2="473.9"/>
  <line x1="1003.9" y1="457.6" x2="1003.9" y2="505.3"/>
  <line x1="827.4" y1="730.8" x2="872" y2="706.5"/>
  <line x1="885.3" y1="709.6" x2="933.6" y2="717.7"/>
  <line x1="824.8" y1="860" x2="901" y2="872.4"/>
  <line x1="824.8" y1="836.4" x2="824.8" y2="883.5"/>
  <line x1="901" y1="846" x2="901" y2="896"/>
  <line x1="916.4" y1="846" x2="916.4" y2="896"/>
  <line x1="916.4" y1="874" x2="934.4" y2="866"/>
  <line x1="934.4" y1="839" x2="934.4" y2="886"/>
</g>
<line class="dim" x1="812" y1="310.1" x2="891.6" y2="319.8"/>
<line class="dim" x1="891.6" y1="295.5" x2="891.6" y2="341.5"/>
<line class="dim" x1="806.9" y1="451.1" x2="1003.9" y2="482.5"/>
<line class="dim" x1="805.8" y1="428.4" x2="805.8" y2="473.9"/>
<line class="dim" x1="1003.9" y1="457.6" x2="1003.9" y2="505.3"/>
<line class="dim" x1="827.4" y1="730.8" x2="872" y2="706.5"/>
<line class="dim" x1="885.3" y1="709.6" x2="933.6" y2="717.7"/>
<line class="dim" x1="824.8" y1="860" x2="901" y2="872.4"/>
<line class="dim" x1="824.8" y1="836.4" x2="824.8" y2="883.5"/>
<line class="dim" x1="901" y1="846" x2="901" y2="896"/>
<line class="dim" x1="916.4" y1="846" x2="916.4" y2="896"/>
<line class="dim" x1="916.4" y1="874" x2="934.4" y2="866"/>
<line class="dim" x1="934.4" y1="839" x2="934.4" y2="886"/>
</g>

<!-- ============ LABELS ============ -->
<g id="labels">
<text class="lbl" transform="translate(428,173) rotate(-12)" font-size="38.5" textLength="290" lengthAdjust="spacingAndGlyphs">16 9/16″ (42cm)</text>
<text class="lbl" x="845" y="50" font-size="31" textLength="204" lengthAdjust="spacingAndGlyphs">3/16″ (0.4 cm)</text>
<text x="1147" y="96.5" font-size="32" textLength="84" lengthAdjust="spacingAndGlyphs">1 3/4″</text>
<text x="1134.4" y="129" font-size="32" textLength="117" lengthAdjust="spacingAndGlyphs">(4.5 cm)</text>
<text class="lbl" transform="translate(532,323) rotate(5)" font-size="39.1" textLength="342" lengthAdjust="spacingAndGlyphs">18 11/16″ (47.5cm)</text>
<text class="lbl" transform="translate(1121,486) rotate(3)" font-size="41" textLength="107.5" lengthAdjust="spacingAndGlyphs">7 3/4″</text>
<text class="lbl" transform="translate(1099.6,525) rotate(3.5)" font-size="41" textLength="158.4" lengthAdjust="spacingAndGlyphs">(19.7cm)</text>
<text class="lbl" transform="translate(747,513) rotate(8)" font-size="39.1" textLength="291" lengthAdjust="spacingAndGlyphs">9 13/16″ (25cm)</text>
<text class="lbl" x="1321.3" y="723.6" font-size="40" textLength="152" lengthAdjust="spacingAndGlyphs">43 5/16″</text>
<text class="lbl" x="1329.4" y="784" font-size="41" textLength="145.6" lengthAdjust="spacingAndGlyphs">(110cm)</text>
<text class="lbl" transform="translate(514,711) rotate(12.8)" font-size="40" textLength="285" lengthAdjust="spacingAndGlyphs">16 9/16″ (42cm)</text>
<text class="lbl" transform="translate(893,800) rotate(-30.3)" font-size="38.5" textLength="341" lengthAdjust="spacingAndGlyphs">10 13/16″ (27.5cm)</text>
<text class="lbl" x="953.8" y="857.2" font-size="40" textLength="148.4" lengthAdjust="spacingAndGlyphs">1 15/16″</text>
<text class="lbl" x="983" y="896" font-size="40" textLength="100" lengthAdjust="spacingAndGlyphs">(5cm)</text>
<text class="lbl" transform="translate(708,903) rotate(11.3)" font-size="38.5" textLength="133" lengthAdjust="spacingAndGlyphs">4 5/16″</text>
<text class="lbl" transform="translate(854,939) rotate(12)" font-size="38.5" textLength="124" lengthAdjust="spacingAndGlyphs">(11cm)</text>
<text class="lbl" x="70" y="1039.5" font-size="40.5" textLength="298.6" lengthAdjust="spacingAndGlyphs">6 1/3 ft (193 cm)</text>
<text class="lbl" transform="translate(459,1366) rotate(20.9)" font-size="36.3" textLength="290" lengthAdjust="spacingAndGlyphs">24 7/16″ (62cm)</text>
<text class="lbl" transform="translate(1022,1466) rotate(-46)" font-size="39.6" textLength="270" lengthAdjust="spacingAndGlyphs">21 1/4″ (54cm)</text>
</g>
<g id="labels-thin">
<text class="thin" transform="translate(428,173) rotate(-12)" font-size="38.5" textLength="290" lengthAdjust="spacingAndGlyphs">16 9/16″ (42cm)</text>
<text class="thin" x="845" y="50" font-size="31" textLength="204" lengthAdjust="spacingAndGlyphs">3/16″ (0.4 cm)</text>
<text class="thin" x="1147" y="96.5" font-size="32" textLength="84" lengthAdjust="spacingAndGlyphs">1 3/4″</text>
<text class="thin" x="1134.4" y="129" font-size="32" textLength="117" lengthAdjust="spacingAndGlyphs">(4.5 cm)</text>
<text class="thin" transform="translate(532,323) rotate(5)" font-size="39.1" textLength="342" lengthAdjust="spacingAndGlyphs">18 11/16″ (47.5cm)</text>
<text class="thin" transform="translate(1121,486) rotate(3)" font-size="41" textLength="107.5" lengthAdjust="spacingAndGlyphs">7 3/4″</text>
<text class="thin" transform="translate(1099.6,525) rotate(3.5)" font-size="41" textLength="158.4" lengthAdjust="spacingAndGlyphs">(19.7cm)</text>
<text class="thin" transform="translate(747,513) rotate(8)" font-size="39.1" textLength="291" lengthAdjust="spacingAndGlyphs">9 13/16″ (25cm)</text>
<text class="thin" x="1321.3" y="723.6" font-size="40" textLength="152" lengthAdjust="spacingAndGlyphs">43 5/16″</text>
<text class="thin" x="1329.4" y="784" font-size="41" textLength="145.6" lengthAdjust="spacingAndGlyphs">(110cm)</text>
<text class="thin" transform="translate(514,711) rotate(12.8)" font-size="40" textLength="285" lengthAdjust="spacingAndGlyphs">16 9/16″ (42cm)</text>
<text class="thin" transform="translate(893,800) rotate(-30.3)" font-size="38.5" textLength="341" lengthAdjust="spacingAndGlyphs">10 13/16″ (27.5cm)</text>
<text class="thin" x="953.8" y="857.2" font-size="40" textLength="148.4" lengthAdjust="spacingAndGlyphs">1 15/16″</text>
<text class="thin" x="983" y="896" font-size="40" textLength="100" lengthAdjust="spacingAndGlyphs">(5cm)</text>
<text class="thin" transform="translate(708,903) rotate(11.3)" font-size="38.5" textLength="133" lengthAdjust="spacingAndGlyphs">4 5/16″</text>
<text class="thin" transform="translate(854,939) rotate(12)" font-size="38.5" textLength="124" lengthAdjust="spacingAndGlyphs">(11cm)</text>
<text class="thin" x="70" y="1039.5" font-size="40.5" textLength="298.6" lengthAdjust="spacingAndGlyphs">6 1/3 ft (193 cm)</text>
<text class="thin" transform="translate(459,1366) rotate(20.9)" font-size="36.3" textLength="290" lengthAdjust="spacingAndGlyphs">24 7/16″ (62cm)</text>
<text class="thin" transform="translate(1022,1466) rotate(-46)" font-size="39.6" textLength="270" lengthAdjust="spacingAndGlyphs">21 1/4″ (54cm)</text>
</g>
</svg>
</body></html>
